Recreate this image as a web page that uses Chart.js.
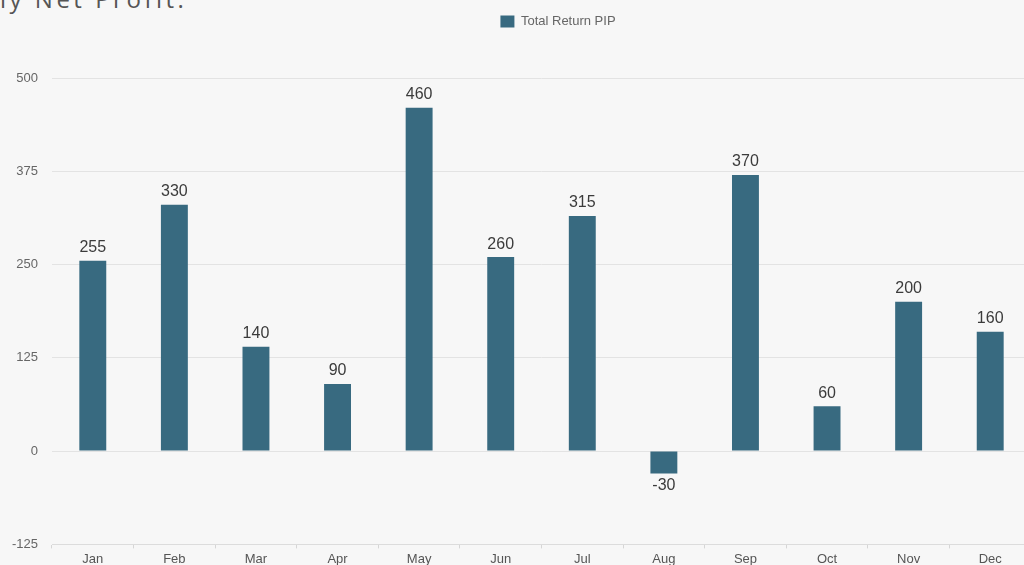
<!DOCTYPE html>
<html>
<head>
<meta charset="utf-8">
<script src="https://cdn.jsdelivr.net/npm/chart.js@4.4.0/dist/chart.umd.min.js"></script>
<style>
    body {
        margin: 0;
        background: #f7f7f7;
        width: 1024px;
        height: 565px;
        overflow: hidden;
        position: relative;
    }
    .heading {
        position: absolute;
        left: 0;
        top: -13px;
        font-family: "Open Sans", sans-serif;
        font-size: 24px;
        line-height: 24px;
        letter-spacing: 3.5px;
        color: #555;
        white-space: nowrap;
    }
    .chart-box {
        position: absolute;
        left: 0;
        top: 5px;
        width: 1116px;
        height: 565px;
    }
</style>
</head>
<body>
<div class="heading">ly Net Profit.</div>
<div class="chart-box"><canvas id="pip-chart"></canvas></div>
<script>
const months = ["Jan", "Feb", "Mar", "Apr", "May", "Jun", "Jul", "Aug", "Sep", "Oct", "Nov", "Dec"];
const totalReturn = [255, 330, 140, 90, 460, 260, 315, -30, 370, 60, 200, 160];
const yMin = -125;
const yMax = 500;
const yStep = 125;

const barColor = "#386a80";
const fontFamily = '"Liberation Sans", Helvetica, Arial, sans-serif';

// numbers above (or under) each bar
const valueLabels = {
    id: 'valueLabels',
    afterDatasetsDraw(chart) {
        const ctx = chart.ctx;
        const meta = chart.getDatasetMeta(0);
        ctx.save();
        ctx.font = '16px ' + fontFamily;
        ctx.fillStyle = "#3b3b3b";
        ctx.textAlign = "center";
        meta.data.forEach((bar, i) => {
            const v = totalReturn[i];
            if (v >= 0) {
                ctx.textBaseline = "bottom";
                ctx.fillText(v, bar.x, bar.y - 5);
            } else {
                ctx.textBaseline = "top";
                ctx.fillText(v, bar.x, bar.y + 4);
            }
        });
        ctx.restore();
    }
};

// extra room between legend and plot
const legendSpacing = {
    id: 'legendSpacing',
    beforeInit(chart) {
        const fit = chart.legend.fit;
        chart.legend.fit = function () {
            fit.call(this);
            this.height += 40;
        };
    }
};

Chart.defaults.font.family = fontFamily;

const ctx = document.getElementById('pip-chart').getContext('2d');
const chart = new Chart(ctx, {
    type: 'bar',
    data: {
        labels: months,
        datasets: [
            {
                label: "Total Return PIP",
                data: totalReturn,
                backgroundColor: barColor,
                borderWidth: 0,
                categoryPercentage: 1,
                barPercentage: 0.33
            }
        ]
    },
    options: {
        responsive: true,
        maintainAspectRatio: false,
        animation: false,
        plugins: {
            legend: {
                labels: {
                    boxWidth: 14,
                    boxHeight: 12,
                    color: "#666",
                    font: {
                        size: 13
                    }
                }
            },
            tooltip: {
                enabled: false
            }
        },
        scales: {
            x: {
                grid: {
                    drawOnChartArea: false,
                    tickLength: 4,
                    color: "#d6d6d6"
                },
                border: {
                    color: "#dcdcdc"
                },
                ticks: {
                    color: "#555",
                    font: {
                        size: 13
                    }
                }
            },
            y: {
                min: yMin,
                max: yMax,
                grid: {
                    color: "#e3e3e3",
                    drawTicks: false
                },
                border: {
                    display: false
                },
                ticks: {
                    stepSize: yStep,
                    padding: 14,
                    color: "#666",
                    font: {
                        size: 13
                    }
                },
                afterFit: (scale) => { scale.width = 52; }
            },
            spacer: {
                type: 'linear',
                position: 'right',
                grid: { display: false },
                border: { display: false },
                ticks: { display: false },
                afterFit: (scale) => { scale.width = 85; }
            }
        }
    },
    plugins: [valueLabels, legendSpacing]
});
</script>
</body>
</html>
